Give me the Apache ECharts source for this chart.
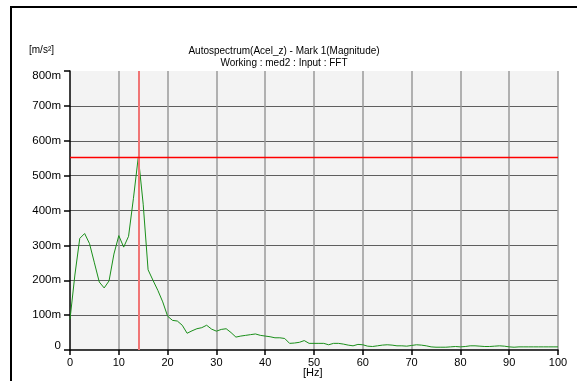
<!DOCTYPE html>
<html><head><meta charset="utf-8">
<script src="https://cdn.jsdelivr.net/npm/echarts@6/dist/echarts.min.js"></script>
<style>html,body{margin:0;padding:0;background:#fff}#c{width:577px;height:381px}</style>
</head><body><div id="c"></div>
<script>
// Frequency (Hz) and magnitude (milli m/s²)
const freqs = [];
for (let f = 0; f <= 100; f++) freqs.push(f);
const magnitude = [
  88, 215, 320, 334, 305, 250, 195, 178, 198, 275,
  328, 295, 326, 435, 554, 418, 230, 200, 171, 138,
  97, 85, 83, 71, 48, 55, 61, 64, 71, 60,
  54, 59, 61, 50, 37, 40, 42, 44, 46, 42,
  40, 38, 35, 35, 33, 19, 20, 22, 27, 19,
  19, 19, 19, 15, 19, 19, 17, 14, 12, 16,
  15, 11, 10, 12, 14, 15, 14, 12, 12, 11,
  13, 15, 14, 12, 9, 8, 8, 8, 9, 10,
  9, 10, 12, 12, 11, 10, 10, 11, 12, 11,
  9, 8, 9, 9, 9, 9, 9, 9, 9, 9, 9
];
const markFreq = 14;
const markValue = 554;
const titleText = 'Autospectrum(Acel_z) - Mark 1(Magnitude)';
const subText = 'Working : med2 : Input : FFT';
const yUnit = '[m/s²]';
const xUnit = '[Hz]';

const chart = echarts.init(document.getElementById('c'), null, {renderer: 'canvas'});
const font = 'Liberation Sans, Arial, sans-serif';
chart.setOption({
  animation: false,
  backgroundColor: '#fff',
  textStyle: {fontFamily: font},
  graphic: [
    {type: 'polyline', shape: {points: [[11, 381], [11, 7], [577, 7]]}, style: {stroke: '#000', lineWidth: 2, fill: null}},
    {type: 'text', left: 29, top: 45, style: {text: yUnit, font: '10px ' + font, fill: '#000'}},
    {type: 'text', left: 303, top: 367, style: {text: xUnit, font: '11px ' + font, fill: '#000'}},
    {type: 'text', x: 284, y: 51, style: {text: titleText, font: '10px ' + font, fill: '#000', align: 'center', verticalAlign: 'middle'}},
    {type: 'text', x: 284, y: 63, style: {text: subText, font: '10px ' + font, fill: '#000', align: 'center', verticalAlign: 'middle'}}
  ],
  grid: {left: 70, top: 71, width: 488, height: 279, show: true, backgroundColor: '#f3f3f3', borderWidth: 0},
  xAxis: {
    type: 'value', min: 0, max: 100, interval: 10,
    axisLine: {show: true, lineStyle: {color: '#000', width: 1.5}},
    axisTick: {show: true, length: 5, lineStyle: {color: '#000', width: 1.5}},
    axisLabel: {color: '#000', fontSize: 11, margin: 7, fontFamily: font},
    splitLine: {show: true, showMinLine: false, lineStyle: {color: '#9a9a9a', width: 1.5}}
  },
  yAxis: {
    type: 'value', min: 0, max: 800, interval: 100,
    axisLine: {show: true, lineStyle: {color: '#000', width: 1.5}},
    axisTick: {show: true, length: 6, lineStyle: {color: '#000', width: 1.5}},
    axisLabel: {
      color: '#000', fontSize: 11.5, margin: 9, fontFamily: font,
      formatter: v => v === 0 ? '{bot|0}' : (v === 800 ? '{top|800m}' : v + 'm'),
      rich: {top: {fontSize: 11.5, padding: [10, 0, 0, 0]}, bot: {fontSize: 11.5, padding: [0, 0, 8, 0]}}
    },
    splitLine: {show: true, showMinLine: false, showMaxLine: false, lineStyle: {color: '#5e5e5e', width: 1.2}}
  },
  series: [{
    type: 'line',
    data: freqs.map((f, i) => [f, magnitude[i]]),
    symbol: 'none',
    lineStyle: {color: '#1a8f1a', width: 1},
    markLine: {
      silent: true, symbol: 'none', label: {show: false},
      data: [
        {xAxis: markFreq, lineStyle: {color: '#f07575', width: 2, type: 'solid'}},
        {yAxis: markValue, lineStyle: {color: '#ff0000', width: 1.3, type: 'solid'}}
      ]
    }
  }]
});
</script></body></html>
